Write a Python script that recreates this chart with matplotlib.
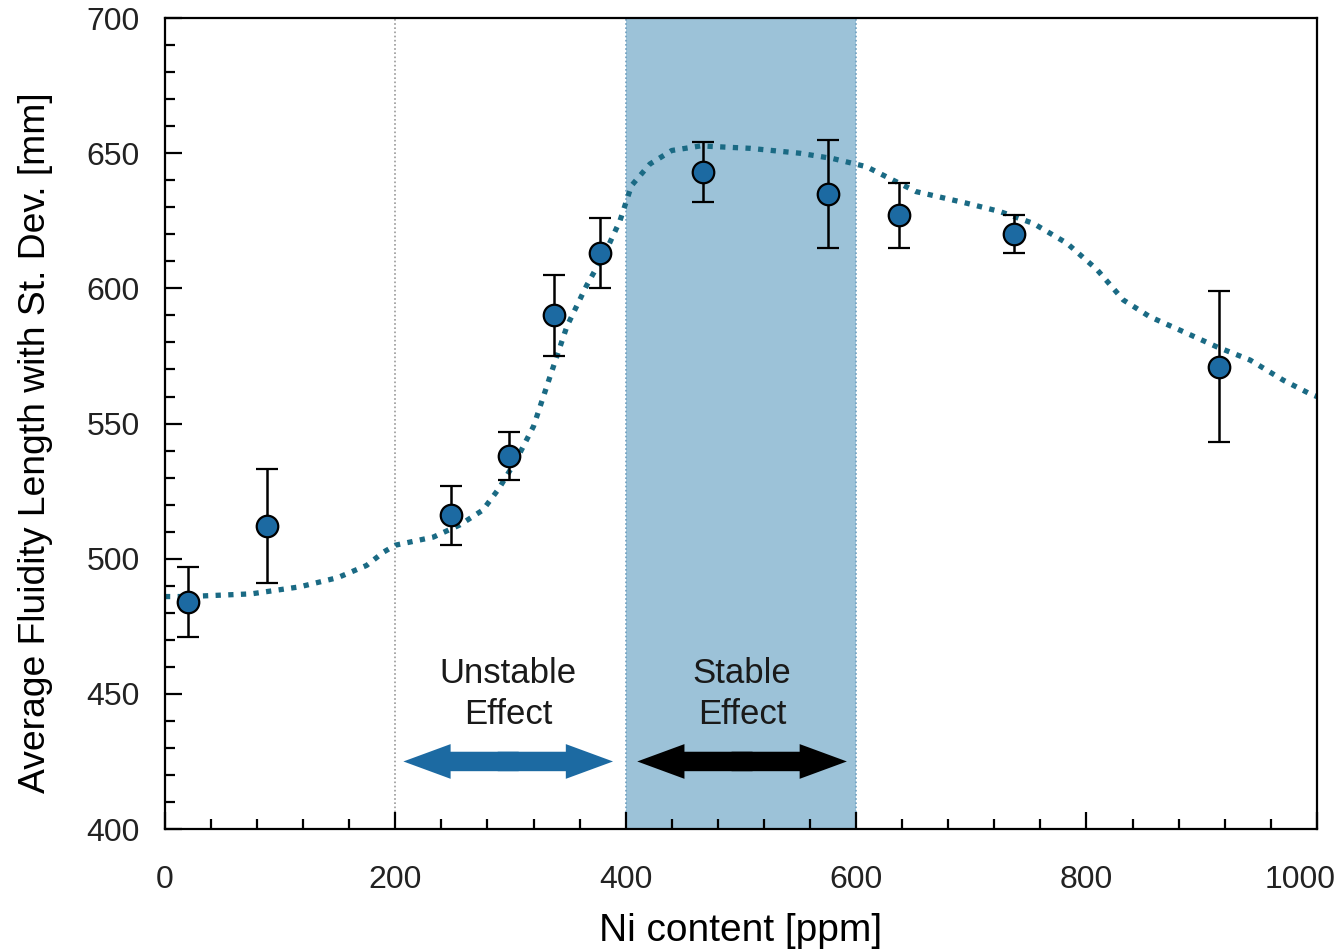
import matplotlib
matplotlib.use("Agg")
import matplotlib.pyplot as plt
from matplotlib.ticker import MultipleLocator, FixedLocator
from matplotlib.patches import FancyArrowPatch

plt.rcParams['font.family'] = ['Liberation Sans', 'DejaVu Sans']

# Data
ni_ppm = [20, 89, 248, 299, 338, 378, 467, 576, 637, 737, 915]
fluidity = [484, 512, 516, 538, 590, 613, 643, 635, 627, 620, 571]
std_dev = [13, 21, 11, 9, 15, 13, 11, 20, 12, 7, 28]

curve_x = [0, 20, 75, 117, 150, 175, 190, 200, 233, 256, 276, 290, 305, 320, 334,
           349, 366, 383, 395, 405, 421, 440, 465, 508, 551, 580, 609, 629, 652,
           696, 725, 754, 783, 809, 832, 855, 884, 913, 942, 971, 994, 1000]
curve_y = [486, 486, 487, 489.6, 493, 497.5, 502.5, 505, 508, 512.5, 518, 526, 536.5, 549, 567,
           586, 601, 614, 625, 638, 646, 651, 652.7, 651.8, 650, 648, 645, 640.7, 635.8,
           631.5, 628.4, 624, 616.7, 607, 595.7, 589.5, 584, 578.4, 573.5, 566, 561, 560]

x_ticks = [0, 200, 400, 600, 800, 1000]
x_tick_labels = ['0', '200', '400', '600', '800', '1000']

unstable_range = [207, 389]
stable_range = [410, 592]
stable_band = [400, 600]
divider_x = 200
arrow_y = 425
label_y = 450

fig = plt.figure(figsize=(13.41, 9.49), dpi=100)
ax = fig.add_axes([0.123, 0.1264, 0.859, 0.8546])

ax.axvspan(stable_band[0], stable_band[1], color='#9cc2d8', zorder=0, lw=0)
for xv in stable_band:
    ax.axvline(xv, color='#6f9fbf', lw=1.2, ls=(0, (1, 1.5)), zorder=1)
ax.axvline(divider_x, color='#999999', lw=1.2, ls=(0, (1, 1.5)), zorder=1)

ax.plot(curve_x, curve_y, color='#1a6a84', lw=3.8, ls=(0, (1.0, 1.4)),
        dash_capstyle='butt', zorder=2)

ax.errorbar(ni_ppm, fluidity, yerr=std_dev, fmt='o', ms=15.5, mfc='#1c6aa2',
            mec='black', mew=1.6, ecolor='black', elinewidth=1.8, capsize=8,
            capthick=1.8, zorder=3)


def double_arrow(x0, x1, y, color):
    mid = (x0 + x1) / 2
    overlap = (x1 - x0) * 0.05
    style = 'simple,head_length=34,head_width=25,tail_width=14'
    ax.add_patch(FancyArrowPatch((mid + overlap, y), (x0, y), arrowstyle=style,
                                 mutation_scale=1, color=color, lw=0,
                                 shrinkA=0, shrinkB=0, zorder=4))
    ax.add_patch(FancyArrowPatch((mid - overlap, y), (x1, y), arrowstyle=style,
                                 mutation_scale=1, color=color, lw=0,
                                 shrinkA=0, shrinkB=0, zorder=4))


double_arrow(unstable_range[0], unstable_range[1], arrow_y, '#1c6aa2')
double_arrow(stable_range[0], stable_range[1], arrow_y, 'black')

ax.text(sum(unstable_range) / 2, label_y, 'Unstable\nEffect', ha='center', va='center',
        fontsize=25, color='#1a1a1a', linespacing=1.3)
ax.text(sum(stable_range) / 2, label_y, 'Stable\nEffect', ha='center', va='center',
        fontsize=25, color='#1a1a1a', linespacing=1.3)

ax.set_xlim(0, 1000)
ax.set_ylim(400, 700)
ax.xaxis.set_major_locator(FixedLocator(x_ticks))
ax.set_xticklabels(x_tick_labels[:-1] + [''])
ax.xaxis.set_minor_locator(MultipleLocator(40))
ax.yaxis.set_major_locator(MultipleLocator(50))
ax.yaxis.set_minor_locator(MultipleLocator(10))
ax.tick_params(which='both', direction='in', top=False, right=False, width=1.6,
               labelcolor='#222222')
ax.tick_params(which='major', length=12, labelsize=23)
ax.tick_params(axis='x', which='major', pad=26)
ax.tick_params(axis='y', which='major', pad=18)
ax.tick_params(which='minor', length=7)
for s in ax.spines.values():
    s.set_linewidth(1.6)

# last x tick label sits slightly left of its tick so it fits in the figure
ax.annotate(x_tick_labels[-1], xy=(x_ticks[-1], 0), xycoords=('data', 'axes fraction'),
            xytext=(-17, -36), textcoords='offset pixels', ha='center', va='top',
            fontsize=23, color='#222222', annotation_clip=False)

ax.set_xlabel('Ni content [ppm]', fontsize=28, labelpad=13)
ax.set_ylabel('Average Fluidity Length with St. Dev. [mm]', fontsize=26.8)
ax.yaxis.set_label_coords(-0.097, 0.477)

fig.savefig('out.png', dpi=100)
